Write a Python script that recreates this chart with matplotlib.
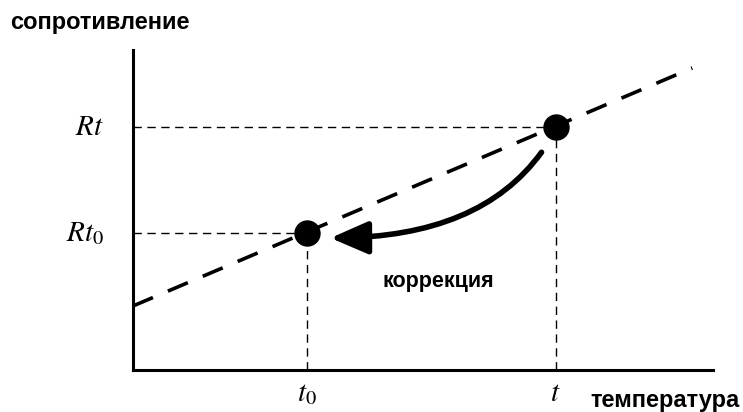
import matplotlib
matplotlib.use('Agg')
import matplotlib.pyplot as plt
from matplotlib.patches import FancyArrowPatch

# measured points (arbitrary units: temperature, resistance)
point_T = [21, 51]
point_R = [13.7, 24.3]
# ends of the dashed characteristic line
line_T = [0, 67.5]
line_R = [6.4, 30.2]
x_labels = [r'$t_0$', r'$t$']
y_labels = [r'$Rt_0$', r'$Rt$']

plt.rcParams['mathtext.fontset'] = 'stix'
plt.rcParams['font.family'] = ['Liberation Sans', 'DejaVu Sans']

W, H = 743, 412
fig = plt.figure(figsize=(W / 100, H / 100), dpi=100)
ax = fig.add_axes([133 / W, 42 / H, 580 / W, 320 / H])
ax.set_xlim(0, 70)
ax.set_ylim(0, 32)
for s in ['top', 'right']:
    ax.spines[s].set_visible(False)
for s in ['left', 'bottom']:
    ax.spines[s].set_linewidth(2.2)
    ax.spines[s].set_color('black')
ax.set_xticks([])
ax.set_yticks([])

# characteristic line
ax.plot(line_T, line_R, color='black', lw=2.6, dashes=(6, 4.5), clip_on=False)

# guide lines
for T, R in zip(point_T, point_R):
    ax.plot([0, T], [R, R], color='black', lw=1, dashes=(6, 4), clip_on=False)
    ax.plot([T, T], [0, R], color='black', lw=1, dashes=(6, 4), clip_on=False)

ax.plot(point_T, point_R, 'o', color='black', ms=18, clip_on=False, zorder=5)

# correction arrow
arr = FancyArrowPatch((49.5, 22.0), (23.5, 13.2),
                      connectionstyle='angle3,angleA=55,angleB=0',
                      arrowstyle='-|>,head_length=1.15,head_width=0.5',
                      mutation_scale=20, lw=4, color='black', zorder=6)
ax.add_patch(arr)
ax.text(36.9, 8.9, 'коррекция', fontsize=15.5, fontweight='bold', ha='center', va='center')

for T, lab in zip(point_T, x_labels):
    ax.text(T, -2.3, lab, fontsize=21, ha='center', va='center')
for R, lab in zip(point_R, y_labels):
    ax.text(-3.5, R, lab, fontsize=21, ha='right', va='center')

fig.text(10 / W, 1 - 22 / H, 'сопротивление', fontsize=17, fontweight='bold', ha='left', va='center')
fig.text(590 / W, 1 - 400 / H, 'температура', fontsize=17, fontweight='bold', ha='left', va='center')

fig.savefig('out.png', dpi=100)
